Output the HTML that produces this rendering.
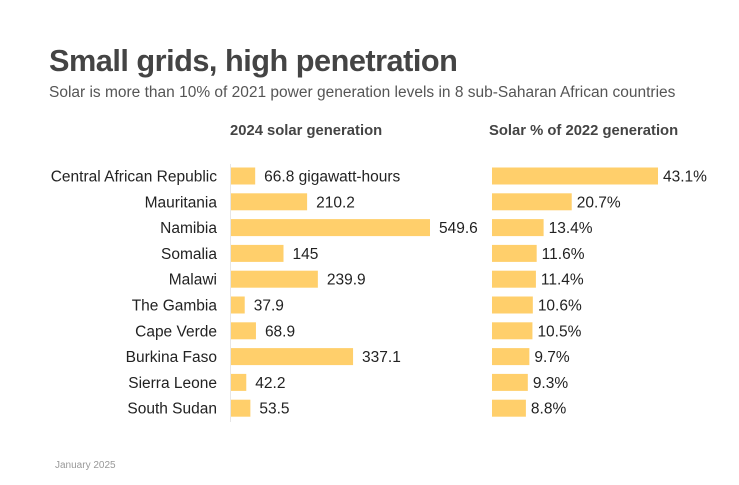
<!DOCTYPE html>
<html><head><meta charset="utf-8"><style>
body{margin:0;background:#fff;font-family:"Liberation Sans",sans-serif;}
#wrap{position:relative;width:739px;height:485px;overflow:hidden;background:#fff}
</style></head><body>
<div id="wrap">
<svg id="chart" width="739" height="485">
<text x="49" y="71" font-size="30.7" font-weight="bold" fill="#444" letter-spacing="-0.5">Small grids, high penetration</text>
<text x="49" y="97" font-size="15.5" fill="#555">Solar is more than 10% of 2021 power generation levels in 8 sub-Saharan African countries</text>
<text x="230" y="135" font-size="14.8" font-weight="bold" fill="#444">2024 solar generation</text>
<text x="489" y="135" font-size="14.8" font-weight="bold" fill="#444">Solar % of 2022 generation</text>
<line x1="230.5" y1="164" x2="230.5" y2="422" stroke="#e6e6e6"/>
<text x="55" y="468" font-size="10" fill="#999">January 2025</text>
</svg>
</div>
<script>
const countries=["Central African Republic","Mauritania","Namibia","Somalia","Malawi","The Gambia","Cape Verde","Burkina Faso","Sierra Leone","South Sudan"];
const generation=[66.8,210.2,549.6,145,239.9,37.9,68.9,337.1,42.2,53.5];
const generationLabels=["66.8 gigawatt-hours","210.2","549.6","145","239.9","37.9","68.9","337.1","42.2","53.5"];
const sharePct=[43.1,20.7,13.4,11.6,11.4,10.6,10.5,9.7,9.3,8.8];
const NS="http://www.w3.org/2000/svg";
const svg=document.getElementById('chart');
const y=i=>176+i*25.8;
const xL=v=>231+v*(199/549.6);
const xR=v=>492+v*(166/43.1);
function mk(tag,attrs){const e=document.createElementNS(NS,tag);for(const k in attrs)e.setAttribute(k,attrs[k]);svg.appendChild(e);return e;}
countries.forEach((c,i)=>{
  const cy=y(i);
  let t=mk('text',{x:217,y:cy+5.5,'font-size':15.5,fill:'#222','text-anchor':'end'});
  t.textContent=c;
  
  
  let b=mk('rect',{x:231,y:cy-8.5,width:xL(generation[i])-231,height:17,fill:'#ffcf6b'});
  
  
  let l=mk('text',{x:xL(generation[i])+9,y:cy+5.5,'font-size':15.5,fill:'#222'});
  l.textContent=generationLabels[i];
  
  
  let r=mk('rect',{x:492,y:cy-8.5,width:xR(sharePct[i])-492,height:17,fill:'#ffcf6b'});
  
  
  let rl=mk('text',{x:xR(sharePct[i])+5,y:cy+5.5,'font-size':15.5,fill:'#222'});
  rl.textContent=sharePct[i].toFixed(1)+'%';
  
  
});
</script>
</body></html>
